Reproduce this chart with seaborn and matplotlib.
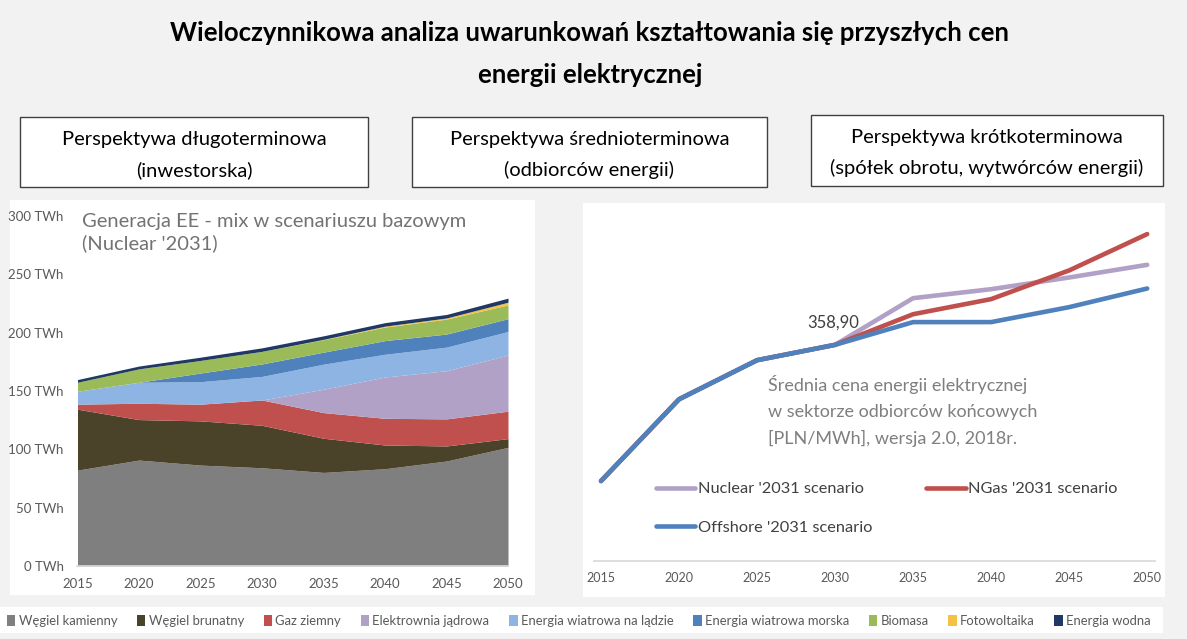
import numpy as np
import pandas as pd
import matplotlib
matplotlib.use("Agg")
import matplotlib.pyplot as plt
import seaborn as sns
from matplotlib.patches import Rectangle, Patch
from matplotlib.lines import Line2D

# ---------------- data ----------------
years = [2015, 2020, 2025, 2030, 2035, 2040, 2045, 2050]

mix_labels = ["Węgiel kamienny", "Węgiel brunatny", "Gaz ziemny", "Elektrownia jądrowa",
              "Energia wiatrowa na lądzie", "Energia wiatrowa morska", "Biomasa",
              "Fotowoltaika", "Energia wodna"]
wegiel_kamienny = [82.2, 90.8, 86.5, 84.2, 80.2, 83.4, 90.0, 101.7]
wegiel_brunatny = [52.2, 34.7, 37.9, 36.4, 29.3, 20.3, 12.9, 7.5]
gaz_ziemny = [4.3, 14.0, 14.3, 21.7, 22.0, 22.9, 23.2, 23.5]
elektrownia_jadrowa = [0.0, 0.0, 0.0, 0.0, 20.0, 35.4, 41.3, 48.1]
wiatr_lad = [11.1, 18.0, 19.3, 20.2, 21.5, 19.5, 20.2, 20.2]
wiatr_morze = [0.0, 0.0, 7.4, 10.7, 10.3, 11.7, 11.2, 11.0]
biomasa = [7.7, 11.5, 10.8, 10.8, 10.7, 11.6, 12.8, 11.8]
fotowoltaika = [0.0, 0.0, 0.0, 0.0, 0.3, 0.8, 1.0, 2.3]
energia_wodna = [2.3, 2.4, 2.8, 3.0, 3.0, 3.0, 3.0, 3.5]

mix_colors = ["#7f7f7f", "#4a4229", "#c0504d", "#b2a1c7", "#8db4e2",
              "#4f81bd", "#9bbb59", "#f5c243", "#1f3864"]

scenario_labels = ["Nuclear '2031 scenario", "NGas '2031 scenario", "Offshore '2031 scenario"]
nuclear_price = [258.8, 318.9, 347.6, 358.9, 393.2, 399.8, 408.4, 417.7]
ngas_price = [258.8, 318.9, 347.6, 358.9, 381.4, 392.5, 413.6, 440.3]
offshore_price = [258.8, 318.9, 347.6, 358.9, 375.6, 375.6, 386.6, 400.3]
scenario_colors = ["#b2a1c7", "#c0504d", "#4f81bd"]
annot_year = 2030

yticks_mix = [0, 50, 100, 150, 200, 250, 300]

# ---------------- style ----------------
sns.set_theme(style="white")
plt.rcParams['font.family'] = ['Lato', 'DejaVu Sans']

W, H = 1187, 639
fig = plt.figure(figsize=(W / 100, H / 100), dpi=100, facecolor="#f2f2f2")


def fx(px):
    return px / W


def fy(py):
    return 1 - py / H


def frect(x0, y0, x1, y1, **kw):
    r = Rectangle((fx(x0), fy(y1)), (x1 - x0) / W, (y1 - y0) / H,
                  transform=fig.transFigure, zorder=-5, **kw)
    fig.patches.append(r)


# title
fig.text(fx(590), fy(33), "Wieloczynnikowa analiza uwarunkowań kształtowania się przyszłych cen",
         ha="center", va="center", fontsize=18.5, fontweight="bold", color="black")
fig.text(fx(590), fy(75), "energii elektrycznej",
         ha="center", va="center", fontsize=18.5, fontweight="bold", color="black")

# header boxes
boxes = [(20, 117, 368, 187, "Perspektywa długoterminowa", "(inwestorska)"),
         (412, 117, 767, 187, "Perspektywa średnioterminowa", "(odbiorców energii)"),
         (811, 115, 1163, 186, "Perspektywa krótkoterminowa", "(spółek obrotu, wytwórców energii)")]
for x0, y0, x1, y1, t1, t2 in boxes:
    frect(x0, y0, x1, y1, facecolor="white", edgecolor="#404040", linewidth=1.0)
    cx = (x0 + x1) / 2
    fig.text(fx(cx), fy(y0 + 22), t1, ha="center", va="center", fontsize=14.5, color="black")
    fig.text(fx(cx), fy(y0 + 53), t2, ha="center", va="center", fontsize=14.5, color="black")

# panels
frect(10, 200, 535, 595, facecolor="white", edgecolor="none")
frect(583, 203, 1165, 597, facecolor="white", edgecolor="none")
frect(0, 607, 1163, 633, facecolor="white", edgecolor="none")

# ---------------- left: stacked area ----------------
ax1 = fig.add_axes([fx(77.5), fy(566), 430.5 / W, 350 / H])
ax1.set_facecolor("none")
series = [wegiel_kamienny, wegiel_brunatny, gaz_ziemny, elektrownia_jadrowa, wiatr_lad,
          wiatr_morze, biomasa, fotowoltaika, energia_wodna]
ax1.stackplot(years, *series, colors=mix_colors, labels=mix_labels, linewidth=0)
ax1.set_xlim(2015, 2050)
ax1.set_ylim(0, 300)
ax1.set_xticks(years)
ax1.set_yticks(yticks_mix)
ax1.set_yticklabels([f"{v} TWh" for v in yticks_mix])
for s in ["top", "right", "left"]:
    ax1.spines[s].set_visible(False)
ax1.spines["bottom"].set_color("#d9d9d9")
ax1.tick_params(axis="both", length=0, labelsize=9.5, colors="#595959")
ax1.tick_params(axis="y", pad=10)
ax1.tick_params(axis="x", pad=9)
ax1.grid(False)
fig.text(fx(82), fy(213), "Generacja EE - mix w scenariuszu bazowym\n(Nuclear '2031)",
         ha="left", va="top", fontsize=14.5, color="#737373", linespacing=1.3)

# ---------------- right: price lines ----------------
ax2 = fig.add_axes([fx(594), fy(561), 561 / W, 351 / H])
ax2.set_facecolor("none")
df = pd.DataFrame({
    "year": years * 3,
    "price": nuclear_price + ngas_price + offshore_price,
    "scenario": [scenario_labels[0]] * len(years) + [scenario_labels[1]] * len(years)
                + [scenario_labels[2]] * len(years),
})
sns.lineplot(data=df, x="year", y="price", hue="scenario", hue_order=scenario_labels,
             palette=scenario_colors, linewidth=3.3, legend=False, ax=ax2)
ax2.set_xlim(2014.55, 2050.5)
ax2.set_ylim(200, 458)
ax2.set_xticks(years)
ax2.set_yticks([])
ax2.set_xlabel("")
ax2.set_ylabel("")
for s in ["top", "right", "left"]:
    ax2.spines[s].set_visible(False)
ax2.spines["bottom"].set_color("#d9d9d9")
ax2.tick_params(axis="x", length=0, labelsize=9, colors="#595959", pad=8)
ax2.grid(False)

v = offshore_price[years.index(annot_year)]
ax2.annotate(f"{v:.2f}".replace(".", ","), xy=(annot_year, v), xytext=(-1, 10),
             textcoords="offset points", ha="center", va="bottom", fontsize=12, color="#404040")

fig.text(fx(768), fy(375), "Średnia cena energii elektrycznej\nw sektorze odbiorców końcowych\n[PLN/MWh], wersja 2.0, 2018r.",
         ha="left", va="top", fontsize=13, color="#7f7f7f", linespacing=1.75)

handles = [Line2D([0], [0], color=scenario_colors[0], lw=3.3),
           Line2D([0], [0], color=scenario_colors[2], lw=3.3),
           Line2D([0], [0], color=scenario_colors[1], lw=3.3)]
labels = [scenario_labels[0], scenario_labels[2], scenario_labels[1]]
leg2 = fig.legend(handles, labels, ncol=2, loc="upper left", bbox_to_anchor=(fx(656), fy(482)),
                  frameon=False, fontsize=11.8, handlelength=2.4, handletextpad=0.15,
                  columnspacing=3.3, labelspacing=1.45, borderaxespad=0, borderpad=0)
for t in leg2.get_texts():
    t.set_color("#404040")

# ---------------- bottom legend ----------------
patches = [Patch(facecolor=c, edgecolor="none", label=l) for c, l in zip(mix_colors, mix_labels)]
leg = fig.legend(handles=patches, loc="center left", bbox_to_anchor=(fx(7), fy(621)),
                 ncol=9, frameon=False, fontsize=9.4, handlelength=0.65, handleheight=0.9,
                 handletextpad=0.25, columnspacing=1.5, borderaxespad=0, borderpad=0)
for t in leg.get_texts():
    t.set_color("#595959")

fig.savefig("out.png", dpi=100, facecolor=fig.get_facecolor())
